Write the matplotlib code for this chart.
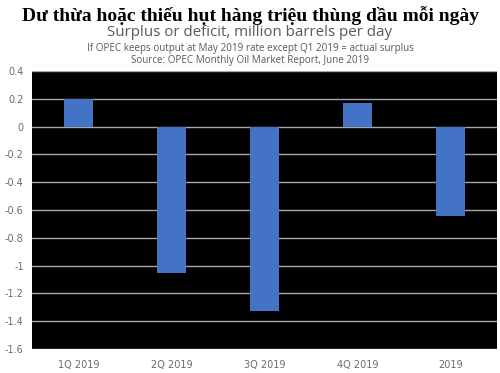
import matplotlib.pyplot as plt
import numpy as np

categories = ["1Q 2019", "2Q 2019", "3Q 2019", "4Q 2019", "2019"]
values = [0.20, -1.05, -1.33, 0.17, -0.64]
yticks = [0.4, 0.2, 0, -0.2, -0.4, -0.6, -0.8, -1, -1.2, -1.4, -1.6]

title = "Dư thừa hoặc thiếu hụt hàng triệu thùng dầu mỗi ngày"
subtitle = "Surplus or deficit, million barrels per day"
note1 = "If OPEC keeps output at May 2019 rate except Q1 2019 = actual surplus"
note2 = "Source: OPEC Monthly Oil Market Report, June 2019"

fig = plt.figure(figsize=(5, 3.73), dpi=100)
ax = fig.add_axes([32 / 500, 1 - 349 / 373, 465 / 500, 278 / 373])
ax.set_facecolor("black")

x = np.arange(len(categories))
ax.set_ylim(-1.6, 0.4)
ax.set_xlim(-0.5, len(categories) - 0.5)
for t in yticks:
    ax.axhline(t, color="#a6a6a6", lw=1, zorder=1)
ax.bar(x, values, width=0.31, color="#4472C4", zorder=2)

ax.set_yticks(yticks)
ax.set_yticklabels([("%g" % t) for t in yticks])
ax.set_xticks(x)
ax.set_xticklabels(categories)
ax.tick_params(length=0, labelsize=7, colors="#6b6b6b", pad=8)
ax.tick_params(axis="y", pad=6)
for s in ax.spines.values():
    s.set_visible(False)

fig.text(0.5, 1 - 16 / 373, title, ha="center", va="center",
         family="Liberation Serif", fontweight="bold", fontsize=14, color="black")
fig.text(0.5, 1 - 32 / 373, subtitle, ha="center", va="center",
         family="Open Sans", fontsize=10.9, color="#595959")
fig.text(0.5, 1 - 48 / 373, note1, ha="center", va="center",
         family="Open Sans", fontsize=7.1, color="#595959")
fig.text(0.5, 1 - 61 / 373, note2, ha="center", va="center",
         family="Open Sans", fontsize=7.1, color="#595959")

fig.savefig("out.png", dpi=100)
